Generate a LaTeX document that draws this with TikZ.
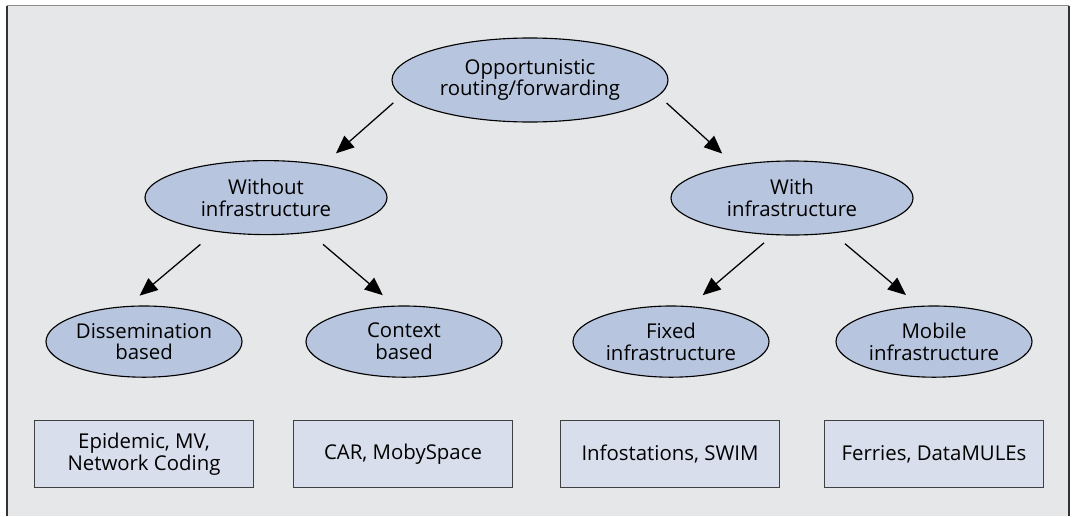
\documentclass[tikz,border=0pt]{standalone}
\usepackage{fontspec}
\setmainfont{Open Sans}
\usetikzlibrary{shapes.geometric,arrows.meta}
\definecolor{panelgray}{RGB}{230,231,233}
\definecolor{ovalblue}{RGB}{184,197,222}
\definecolor{boxblue}{RGB}{217,222,236}
\begin{document}
\begin{tikzpicture}[
    txt/.style={align=center, inner sep=0pt, font=\fontsize{14.5}{15.6}\selectfont},
    oval/.style={txt, ellipse, draw=black, line width=0.8pt, fill=ovalblue},
    topoval/.style={oval, minimum width=6.9cm, minimum height=2.1cm},
    midoval/.style={oval, minimum width=6.05cm, minimum height=1.85cm},
    lowoval/.style={oval, minimum width=4.9cm, minimum height=1.78cm},
    listbox/.style={txt, rectangle, draw=black!75, line width=0.9pt, fill=boxblue,
        minimum width=5.475cm, minimum height=1.675cm},
    arr/.style={line width=0.9pt, -{Triangle[length=0.45cm,width=0.38cm]}}
]
                                \useasboundingbox (0,0) rectangle (26.825,-12.9);
                                \fill[panelgray] (.175,-12.9) rectangle (26.725,-.1375);
                                \draw[line width=1pt, black!80] (.175,-12.9)
                                -- (.175,-.1375);
                                \draw[line width=1pt, black!80] (26.725,-12.9)
                                -- (26.725,-.1375);
                                \draw[line width=1.2pt, black!45] (.175,-.1375)
                                -- (26.725,-.1375);

                                \node[topoval] (root) at (13.25,-2.0) {Opportunistic\\routing/forwarding};

                                \node[midoval] (without) at (6.65,-4.94) {Without\\infrastructure};
                                \node[midoval] (with) at (19.8,-4.95) {With\\infrastructure};

                                \node[lowoval] (dissem) at (3.6,-8.54) {Dissemination\\based};
                                \node[lowoval] (context) at (10.1,-8.54) {Context\\based};
                                \node[lowoval] (fixed) at (16.775,-8.54) {Fixed\\infrastructure};
                                \node[lowoval] (mobile) at (23.35,-8.54) {Mobile\\infrastructure};

                                \node[listbox] (epidemic) at (3.6,-11.35) {Epidemic, MV,\\Network Coding};
                                \node[listbox] (car) at (10.075,-11.35) {CAR, MobySpace};
                                \node[listbox] (infost) at (16.75,-11.35) {Infostations, SWIM};
                                \node[listbox] (ferries) at (23.35,-11.35) {Ferries, DataMULEs};

                                \draw[arr, shorten <=.27cm, shorten >=.42cm] (root.187) -- (without.30);
                                \draw[arr, shorten <=.27cm, shorten >=.42cm] (root.353) -- (with.150);

                                \draw[arr, shorten <=.49cm, shorten >=.4cm] (without.214) -- (dissem.115);
                                \draw[arr, shorten <=.45cm, shorten >=.4cm] (without.321) -- (context.104);
                                \draw[arr, shorten <=.3cm, shorten >=.42cm] (with.243) -- (fixed.62);
                                \draw[arr, shorten <=.4cm, shorten >=.42cm] (with.319) -- (mobile.113);


                            \end{tikzpicture}
\end{document}
